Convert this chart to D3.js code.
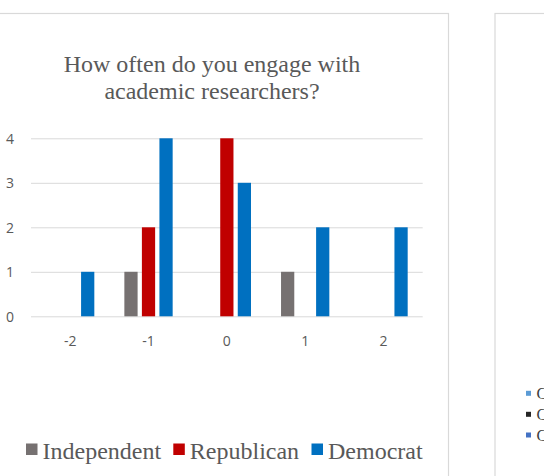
<!DOCTYPE html>
<html>
<head>
<meta charset="utf-8">
<script src="https://cdn.jsdelivr.net/npm/d3@7/dist/d3.min.js"></script>
<style>
  html, body { margin: 0; padding: 0; background: #fff; }
  svg { display: block; }
</style>
</head>
<body>
<svg id="chart" width="544" height="476"></svg>
<script>
// ---- data ----
const categories = ["-2", "-1", "0", "1", "2"];
const seriesNames = ["Independent", "Republican", "Democrat"];
const independent = [0, 1, 0, 1, 0];
const republican = [0, 2, 4, 0, 0];
const democrat = [1, 4, 3, 2, 2];
const yTicks = [0, 1, 2, 3, 4];
const titleLines = ["How often do you engage with", "academic researchers?"];
const sideLegend = ["C", "C", "C"];

const seriesValues = [independent, republican, democrat];
const colors = ["#767171", "#C00000", "#0070C0"];
const sideColors = ["#5B9BD5", "#262626", "#4472C4"];

const svg = d3.select("#chart");
svg.append("rect").attr("width", 544).attr("height", 476).attr("fill", "#fff");

// chart frames
svg.append("rect").attr("x", -30).attr("y", 13.5).attr("width", 478.5).attr("height", 500)
  .attr("fill", "none").attr("stroke", "#d9d9d9").attr("stroke-width", 1.2);
svg.append("rect").attr("x", 495).attr("y", 13.5).attr("width", 100).attr("height", 500)
  .attr("fill", "none").attr("stroke", "#d9d9d9").attr("stroke-width", 1.2);

// scales
const x0 = d3.scaleBand().domain(categories).range([31, 422.7]).paddingInner(0).paddingOuter(0);
const groupW = 48.3;
const off = (x0.bandwidth() - groupW) / 2;
const x1 = d3.scaleBand().domain(seriesNames).range([off, off + groupW]).paddingInner(0.245).paddingOuter(0);
const y = d3.scaleLinear().domain([0, 4]).range([316.3, 138.3]);

// gridlines
const grid = svg.append("g").attr("transform", "translate(31,0)")
  .call(d3.axisLeft(y).tickValues(yTicks).tickSize(-(422.7 - 31)).tickFormat(""));
grid.select(".domain").remove();
grid.selectAll("line").attr("stroke", "#d9d9d9").attr("stroke-width", 1);

// y labels
const yAx = svg.append("g").attr("transform", "translate(14,0)")
  .call(d3.axisLeft(y).tickValues(yTicks).tickSize(0).tickPadding(0).tickFormat(d3.format("d")));
yAx.select(".domain").remove();
yAx.selectAll("text").attr("font-family", "'Open Sans', sans-serif").attr("font-size", 14)
  .attr("fill", "#595959").attr("dy", "0.36em");

// x labels
const xAx = svg.append("g").attr("transform", "translate(0,316.3)")
  .call(d3.axisBottom(x0).tickSize(0).tickPadding(20));
xAx.select(".domain").remove();
xAx.selectAll("text").attr("font-family", "'Open Sans', sans-serif").attr("font-size", 14)
  .attr("fill", "#595959");

// bars
seriesNames.forEach((name, si) => {
  svg.append("g").selectAll("rect")
    .data(categories.map((c, i) => ({ c, v: seriesValues[si][i] })).filter(d => d.v > 0))
    .join("rect")
    .attr("x", d => x0(d.c) + x1(name))
    .attr("width", x1.bandwidth())
    .attr("y", d => y(d.v))
    .attr("height", d => y(0) - y(d.v))
    .attr("fill", colors[si]);
});

// title
svg.append("text").attr("x", 212).attr("y", 71.7).attr("text-anchor", "middle")
  .attr("font-family", "'Liberation Serif', 'Times New Roman', serif").attr("font-size", 24)
  .attr("fill", "#595959")
  .selectAll("tspan").data(titleLines).join("tspan")
  .attr("x", 212).attr("dy", (d, i) => i === 0 ? 0 : 27.6).text(d => d);

// legend
const legendX = [26, 173.3, 311.5];
const lg = svg.append("g");
seriesNames.forEach((name, i) => {
  lg.append("rect").attr("x", legendX[i]).attr("y", 443.5).attr("width", 11.5).attr("height", 11.5)
    .attr("fill", colors[i]);
  lg.append("text").attr("x", legendX[i] + 16.5).attr("y", 459.3)
    .attr("font-family", "'Liberation Serif', 'Times New Roman', serif").attr("font-size", 24)
    .attr("fill", "#595959").text(name);
});

// partial second chart legend
const sideY = [393.3, 414.3, 435];
sideLegend.forEach((t, i) => {
  svg.append("rect").attr("x", 526).attr("y", sideY[i] - 2.5).attr("width", 5).attr("height", 5)
    .attr("fill", sideColors[i]);
  svg.append("text").attr("x", 536.5).attr("y", sideY[i] + 5.5)
    .attr("font-family", "'Liberation Serif', 'Times New Roman', serif").attr("font-size", 16)
    .attr("fill", "#404040").text(t);
});
</script>
</body>
</html>
